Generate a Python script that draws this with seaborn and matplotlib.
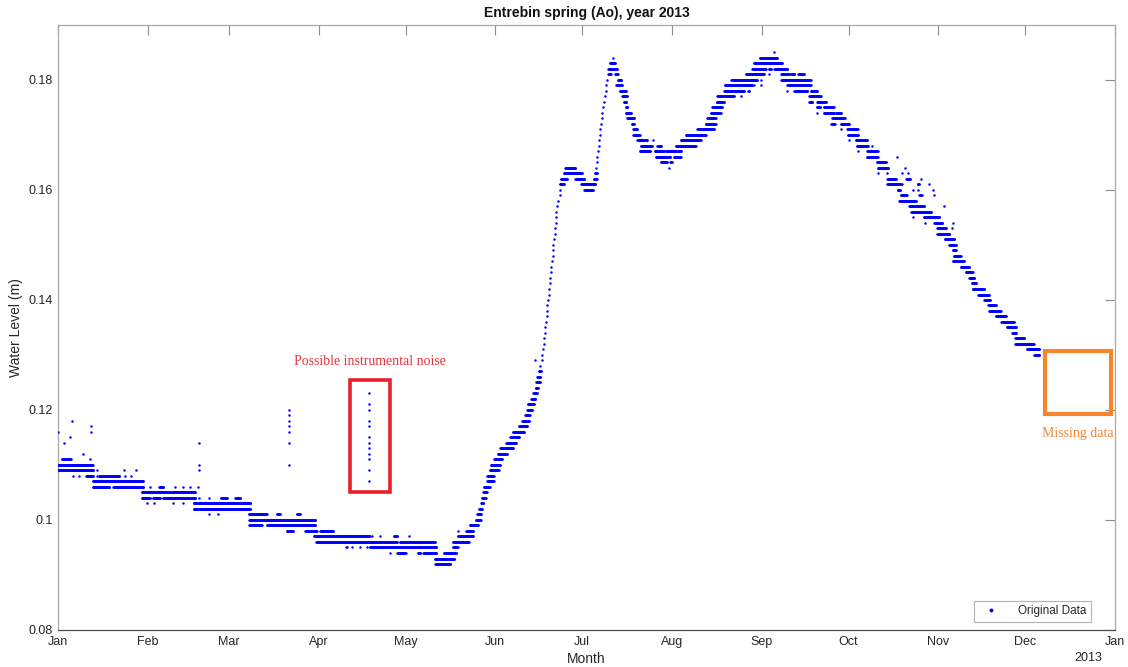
import numpy as np
import pandas as pd
import matplotlib
matplotlib.use("Agg")
import matplotlib.pyplot as plt
from matplotlib.patches import Rectangle
from matplotlib.lines import Line2D
import seaborn as sns

# ---------------- data ----------------
month_labels = ["Jan", "Feb", "Mar", "Apr", "May", "Jun", "Jul", "Aug", "Sep", "Oct", "Nov", "Dec", "Jan"]
month_start_days = [0, 31, 59, 90, 120, 151, 181, 212, 243, 273, 304, 334, 365]
y_ticks = [0.08, 0.10, 0.12, 0.14, 0.16, 0.18]
y_tick_labels = ["0.08", "0.1", "0.12", "0.14", "0.16", "0.18"]

# readings: (water level in mm, first day, last day), days counted from 1 Jan 2013
bands_jan_apr = [
    (110, 0.0, 12.0), (109, 0.0, 12.2), (111, 1.3, 4.4),
    (116, 0.0, 0.0), (114, 2.2, 2.2), (115, 4.0, 4.0), (118, 4.8, 4.8), (112, 8.8, 8.8),
    (111, 11.2, 11.2), (117, 11.3, 11.3), (116, 11.3, 11.3),
    (108, 5.3, 5.3), (108, 7.3, 7.3), (108, 9.7, 12.2), (108, 13.4, 13.4), (108, 14.0, 21.2),
    (108, 23.2, 23.2), (108, 25.1, 25.1),
    (109, 13.4, 13.4), (109, 22.8, 22.8), (109, 26.8, 26.8),
    (107, 12.0, 29.5), (106, 12.0, 17.7), (106, 19.1, 29.5),
    (106, 31.8, 31.8), (106, 35.0, 36.4), (106, 40.4, 40.4), (106, 43.3, 43.3), (106, 45.6, 45.6),
    (106, 48.5, 48.5),
    (105, 28.9, 47.4), (104, 28.9, 31.8), (104, 32.7, 35.3), (104, 36.2, 47.4),
    (103, 30.9, 30.9), (103, 33.3, 33.3), (103, 39.6, 39.6), (103, 43.3, 43.3),
    (114, 48.7, 48.7), (110, 48.7, 48.7), (109, 48.7, 48.7),
    (103, 46.8, 66.4), (102, 46.8, 66.4),
    (104, 48.8, 48.8), (104, 52.0, 52.0), (104, 56.2, 58.3), (104, 61.2, 62.9),
    (101, 52.0, 52.0), (101, 55.4, 55.4),
    (101, 65.8, 72.1), (101, 75.6, 76.7), (101, 82.5, 83.6),
    (100, 66.1, 88.8), (99, 66.1, 70.4), (99, 72.1, 88.8),
    (98, 79.0, 81.1), (98, 85.4, 89.4), (98, 90.6, 95.0),
    (120, 79.7, 79.7), (119, 79.7, 79.7), (118, 79.7, 79.7), (117, 79.7, 79.7),
    (116, 79.7, 79.7), (114, 79.7, 79.7), (110, 79.7, 79.7),
    (97, 88.3, 107.6), (96, 89.1, 117.1), (95, 99.5, 99.5),
]

bands_apr_jun = [
    (97, 108.4, 108.4), (97, 111.3, 111.3), (97, 115.9, 117.1), (97, 121.1, 121.1),
    (96, 118.0, 130.3),
    (95, 99.8, 99.8), (95, 101.5, 101.5), (95, 104.2, 104.2), (95, 106.7, 106.7), (95, 107.6, 130.7),
    (94, 114.8, 114.8), (94, 117.1, 120.0), (94, 124.2, 125.1), (94, 126.1, 130.7), (94, 133.2, 137.6),
    (93, 130.1, 136.9), (92, 130.3, 135.5),
    (123, 107.5, 107.5), (121, 107.5, 107.5), (120, 107.5, 107.5), (118, 107.5, 107.5),
    (117, 107.5, 107.5), (115, 107.5, 107.5), (114, 107.5, 107.5), (113, 107.5, 107.5),
    (112, 107.5, 107.5), (111, 107.5, 107.5), (109, 107.5, 107.5), (107, 107.5, 107.5),
    (95, 136.4, 138.0), (96, 136.4, 141.8), (97, 138.0, 143.3), (98, 138.0, 138.0),
    (98, 141.0, 143.3), (99, 142.2, 144.9), (100, 144.2, 145.9), (101, 144.7, 146.1),
    (102, 145.3, 146.4), (103, 146.1, 146.8), (104, 146.4, 147.7), (105, 146.8, 148.1),
    (106, 147.0, 149.1), (107, 148.2, 150.5), (108, 148.2, 150.5), (109, 149.1, 152.2),
    (110, 149.5, 152.6), (111, 150.7, 153.3), (112, 151.8, 155.1), (113, 152.8, 157.1),
    (114, 154.8, 158.3), (115, 156.2, 159.2), (116, 157.1, 160.8), (117, 159.1, 162.0),
    (118, 160.3, 162.8), (119, 161.4, 162.9), (120, 162.0, 163.8), (121, 162.2, 164.3),
    (122, 163.4, 164.8), (123, 164.1, 165.4), (124, 164.9, 165.8), (125, 165.2, 166.4),
    (126, 165.5, 166.6), (127, 166.0, 166.8), (129, 164.8, 164.8),
    (128, 166.6, 166.6), (129, 167.0, 167.0), (130, 167.3, 167.3), (131, 167.5, 167.5),
    (132, 167.8, 167.8), (133, 167.9, 167.9), (134, 168.1, 168.1), (135, 168.3, 168.3),
    (136, 168.6, 168.6), (137, 168.7, 168.7), (138, 168.9, 168.9), (139, 169.0, 169.0),
    (140, 169.1, 169.1), (141, 169.4, 169.4), (142, 169.6, 169.6), (143, 169.8, 169.8),
    (144, 169.95, 169.95), (145, 170.2, 170.2), (146, 170.4, 170.4), (147, 170.5, 170.5),
    (148, 170.8, 170.8), (149, 171.0, 171.0), (150, 171.1, 171.1), (151, 171.3, 171.3),
    (152, 171.5, 171.5), (153, 171.7, 171.7), (154, 171.8, 171.8), (155, 172.0, 172.0),
    (156, 172.1, 172.1), (157, 172.4, 172.4), (158, 172.8, 172.8), (159, 173.2, 173.2),
    (160, 173.5, 173.5),
]

bands_jul_sep = [
    (161, 173.3, 174.7), (162, 173.7, 175.8), (164, 175.2, 178.7), (163, 174.7, 181.0),
    (162, 178.7, 181.8), (161, 180.7, 185.6), (160, 181.8, 184.7),
    (162, 185.0, 186.0), (163, 185.4, 186.2), (164, 185.8, 185.8), (165, 186.0, 186.0),
    (166, 186.2, 186.2), (167, 186.4, 186.4), (168, 186.7, 186.7), (169, 186.9, 186.9),
    (170, 187.1, 187.1), (171, 187.3, 187.3), (172, 187.6, 187.6), (173, 187.8, 187.8),
    (174, 188.0, 188.0), (175, 188.3, 188.3), (176, 188.5, 188.5), (177, 188.8, 188.8),
    (178, 189.1, 189.1), (179, 189.4, 189.4), (180, 189.7, 189.7), (181, 190.0, 190.8),
    (182, 190.0, 193.1), (183, 190.5, 192.5), (184, 191.7, 191.7),
    (181, 192.5, 193.3), (180, 193.3, 194.5), (179, 192.8, 194.8), (178, 194.0, 196.1),
    (177, 194.8, 196.6), (176, 195.4, 196.3), (175, 196.0, 196.6), (174, 196.1, 197.9),
    (173, 196.6, 198.9), (172, 198.2, 198.9), (171, 198.6, 199.8), (170, 198.6, 200.9),
    (169, 200.0, 203.5), (169, 205.5, 205.5), (168, 201.2, 205.2), (168, 206.9, 208.1),
    (167, 200.9, 204.6), (167, 206.1, 209.2), (166, 206.4, 211.5), (165, 208.1, 210.4),
    (164, 211.1, 211.1),
    (165, 211.5, 212.1), (166, 212.7, 215.0), (167, 209.8, 215.0), (168, 213.3, 220.2),
    (169, 215.0, 221.9), (170, 216.7, 223.6), (171, 220.8, 226.5), (172, 223.6, 227.1),
    (173, 224.2, 227.1), (174, 225.4, 228.8), (175, 225.9, 229.4), (176, 227.4, 230.0),
    (177, 227.7, 233.4), (177, 235.7, 235.7), (178, 230.0, 236.9), (178, 238.3, 238.6),
    (179, 230.3, 239.8), (179, 240.3, 240.3), (179, 242.7, 242.7),
    (180, 232.5, 241.5), (180, 242.9, 242.9), (181, 237.5, 243.8), (181, 245.5, 245.5),
    (182, 239.8, 244.4), (182, 245.5, 246.3), (182, 247.3, 251.9), (182, 248.4, 249.6),
    (183, 240.3, 250.1), (184, 242.4, 248.4), (185, 247.3, 247.3),
]

bands_sep_dec = [
    (181, 249.8, 252.4), (181, 253.0, 254.2), (181, 255.6, 257.6),
    (180, 249.8, 259.9), (179, 251.9, 259.9), (178, 251.9, 251.9), (178, 254.2, 258.8),
    (178, 259.9, 262.2), (177, 259.4, 263.4), (176, 259.4, 260.5), (176, 262.2, 265.1),
    (175, 262.0, 263.2), (175, 264.5, 267.8), (174, 262.2, 262.2), (174, 264.5, 268.0),
    (174, 268.6, 270.3), (173, 267.4, 271.7), (172, 267.1, 268.2), (172, 270.3, 273.2),
    (171, 270.3, 270.3), (171, 272.6, 276.1), (170, 272.8, 276.3), (169, 273.2, 273.2),
    (169, 275.5, 279.5), (168, 275.8, 279.8), (168, 281.2, 281.2), (167, 276.1, 276.1),
    (167, 279.5, 283.0), (166, 279.3, 283.0), (166, 289.7, 289.7), (165, 282.7, 285.9),
    (164, 283.0, 286.7), (164, 292.4, 292.4), (163, 283.0, 283.0), (163, 286.2, 286.2),
    (163, 291.6, 291.6), (163, 293.4, 293.4), (162, 286.4, 289.3), (162, 293.0, 294.3),
    (162, 298.0, 298.0), (161, 286.4, 291.0), (161, 291.6, 291.6), (161, 296.8, 297.4),
    (161, 300.8, 300.8), (160, 289.9, 290.8), (160, 295.1, 295.1), (160, 296.8, 296.8),
    (160, 302.3, 302.3), (159, 291.0, 293.1), (159, 297.4, 298.2), (159, 302.6, 302.6),
    (158, 290.5, 296.2), (157, 293.9, 299.1), (157, 306.0, 306.0), (156, 294.7, 301.4),
    (155, 295.4, 295.4), (155, 298.9, 304.3), (154, 299.3, 299.3), (154, 302.6, 305.4),
    (154, 308.9, 308.9), (153, 303.7, 306.6), (153, 308.6, 308.6), (152, 303.7, 307.8),
    (151, 306.3, 309.5), (150, 307.8, 310.1), (149, 308.9, 310.1), (148, 309.3, 311.8),
    (147, 308.9, 312.9), (146, 311.8, 314.7), (145, 313.5, 315.8), (144, 314.7, 316.4),
    (143, 315.5, 317.0), (142, 315.8, 319.9), (141, 317.8, 321.6), (140, 319.9, 321.9),
    (139, 321.2, 323.9), (138, 321.6, 325.6), (137, 323.9, 327.3), (136, 325.8, 330.0),
    (135, 327.7, 330.8), (134, 329.6, 330.8), (133, 330.5, 333.7), (132, 330.5, 337.0),
    (131, 334.6, 338.9), (130, 337.1, 338.9),
]

# annotation boxes (day, level) corners
noise_box = (100.8, 0.1051, 114.6, 0.1255)
missing_box = (340.7, 0.1193, 363.5, 0.1307)

# ---------------- build readings (logger every 4 h) ----------------
step = 1.0 / 6.0
days, levels = [], []
for lvl, d0, d1 in bands_jan_apr + bands_apr_jun + bands_jul_sep + bands_sep_dec:
    t = np.unique(np.r_[np.arange(d0, d1, step), d1])
    days.extend(t)
    levels.extend([lvl / 1000.0] * len(t))
df = pd.DataFrame({"day": days, "level": levels})

# ---------------- plot ----------------
sns.set_style("white")
plt.rcParams["font.family"] = ["Liberation Sans", "DejaVu Sans"]

fig = plt.figure(figsize=(11.28, 6.67), dpi=100)
ax = fig.add_axes([58 / 1128, 37 / 667, 1057 / 1128, 605 / 667])

sns.scatterplot(data=df, x="day", y="level", ax=ax, color="#0000ff", s=3.2,
                linewidth=0, marker="o", legend=False, zorder=3)

ax.set_xlim(0, 365)
ax.set_ylim(0.08, 0.19)
ax.set_xticks(month_start_days)
ax.set_xticklabels(month_labels)
ax.set_yticks(y_ticks)
ax.set_yticklabels(y_tick_labels)

tc = "#262626"
ax.tick_params(axis="both", direction="in", length=7.5, width=0.8, colors="#8c8c8c",
               labelcolor=tc, labelsize=9, top=True, right=True, pad=4)
for side, sp in ax.spines.items():
    sp.set_visible(True)
    sp.set_linewidth(0.9)
    sp.set_color("#4d4d4d" if side == "bottom" else "#a8a8a8")

ax.set_xlabel("Month", fontsize=10, color=tc, labelpad=3)
ax.set_ylabel("Water Level (m)", fontsize=10, color=tc, labelpad=4)
ax.set_title("Entrebin spring (Ao), year 2013", fontsize=10, fontweight="bold", color="#111111", pad=6)
ax.text(0.975, -0.047, "2013", transform=ax.transAxes, ha="center", va="center", fontsize=9, color=tc)

# annotations
x0, y0, x1, y1 = noise_box
ax.add_patch(Rectangle((x0, y0), x1 - x0, y1 - y0, fill=False, edgecolor="#e8202a", linewidth=2.6, zorder=4))
ax.text((x0 + x1) / 2, 0.1289, "Possible instrumental noise", ha="center", va="center",
        fontsize=10, color="#e8333b", family=["Liberation Serif", "DejaVu Serif"])
x0, y0, x1, y1 = missing_box
ax.add_patch(Rectangle((x0, y0), x1 - x0, y1 - y0, fill=False, edgecolor="#f5862e", linewidth=3.0, zorder=2))
ax.text((x0 + x1) / 2, 0.1157, "Missing data", ha="center", va="center",
        fontsize=10, color="#f5862e", family=["Liberation Serif", "DejaVu Serif"])

handle = Line2D([], [], linestyle="none", marker="o", markersize=1.8, color="#0000ff")
leg = ax.legend([handle], ["Original Data"], loc="lower right", bbox_to_anchor=(0.977, 0.014),
                fontsize=8.5, frameon=True, fancybox=False, borderpad=0.35, handletextpad=1.2,
                handlelength=2.2, borderaxespad=0.0)
leg.get_frame().set_edgecolor("#a0a0a0")
leg.get_frame().set_linewidth(0.8)

fig.savefig("out.png", dpi=100)
